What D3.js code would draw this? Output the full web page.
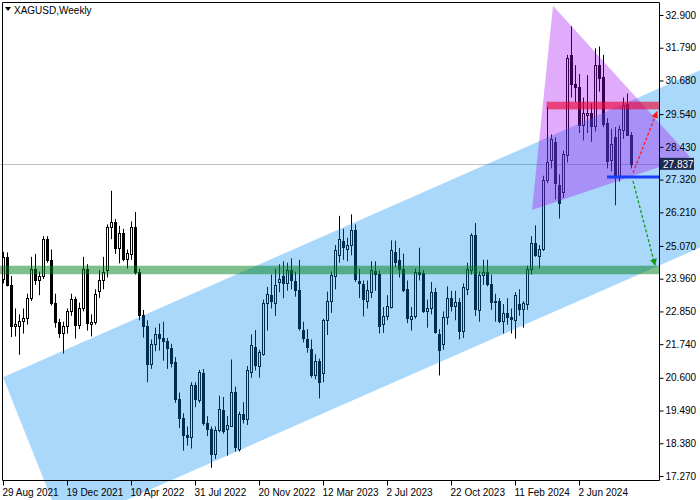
<!DOCTYPE html>
<html><head><meta charset="utf-8">
<script src="https://cdn.jsdelivr.net/npm/d3@7"></script>
<style>body{margin:0;background:#fff;overflow:hidden}svg{display:block}</style>
</head><body><svg id="c" width="700" height="500"></svg>
<script>
// ---------------- data ----------------
const symbolTitle = "XAGUSD,Weekly";
const opens = [
23.95,24.70,23.75,22.35,22.36,22.52,22.62,23.30,24.30,23.90,
24.05,25.30,24.60,23.12,22.48,22.12,22.34,22.85,23.28,22.40,
22.95,24.28,22.42,22.50,23.55,23.90,24.25,25.70,25.88,25.00,
25.50,24.62,24.80,25.70,24.18,22.72,22.35,21.07,21.76,22.10,
21.95,21.85,21.62,21.15,19.88,19.25,18.65,18.58,20.34,19.85,
20.76,19.05,18.85,18.02,18.82,19.50,18.87,18.98,20.11,18.20,
19.37,19.20,20.80,21.66,21.00,21.40,23.12,23.42,23.15,23.85,
24.04,23.80,24.25,23.88,23.56,22.22,21.92,21.58,20.70,21.18,
20.75,22.55,23.22,24.04,24.75,25.24,24.98,25.09,25.62,23.88,
23.79,23.22,23.51,24.22,24.13,22.41,22.71,23.00,24.86,24.58,
24.30,23.62,22.60,22.68,24.18,24.15,22.88,22.97,23.50,22.09,
21.75,22.66,23.31,23.05,23.16,22.20,23.62,24.27,25.43,22.90,
24.10,24.19,23.79,23.16,23.20,22.54,22.78,22.66,22.56,23.10,
22.94,23.11,24.30,25.17,24.72,24.98,27.30,28.00,28.60,27.15,
26.90,28.15,31.55,30.55,30.45,29.16,29.50,29.58,29.12,31.20,
30.80,29.24,27.98,28.75,27.43,29.00,29.88,28.83];
const highs = [
24.87,24.85,24.05,22.95,22.75,22.95,23.45,24.70,24.80,24.20,
25.40,25.40,24.95,23.45,22.60,22.50,22.95,23.45,23.35,23.15,
24.70,24.45,22.75,23.60,24.25,24.70,25.80,26.94,25.98,25.75,
25.65,24.95,25.90,26.22,24.30,22.90,22.55,21.90,22.30,22.44,
22.50,21.95,21.75,21.30,20.10,19.40,18.95,20.45,20.45,20.87,
20.90,19.30,18.95,18.95,19.99,19.95,19.30,21.22,20.30,19.45,
19.77,21.00,22.07,22.22,21.55,23.25,23.68,24.10,24.30,24.45,
24.55,24.50,24.65,24.20,24.60,22.50,22.25,21.90,21.40,21.25,
22.60,23.52,24.20,25.10,26.09,25.65,25.35,26.14,25.80,24.30,
23.90,23.90,24.55,24.55,24.25,23.00,23.40,25.26,25.25,25.00,
24.81,23.90,23.00,24.30,25.01,24.25,23.25,23.85,23.65,22.25,
22.85,23.70,23.55,23.55,23.30,23.80,24.50,25.50,25.85,24.20,
24.60,24.60,24.10,23.45,23.30,23.10,23.30,22.95,23.50,23.60,
23.20,24.40,25.40,25.77,25.10,27.45,29.79,28.85,28.75,27.50,
28.30,31.55,32.52,31.20,30.90,30.10,30.86,29.90,31.77,31.83,
31.55,29.40,29.04,29.10,29.15,30.10,30.24,28.93];
const lows = [
23.80,23.70,21.98,22.00,21.38,22.10,22.40,23.20,23.75,23.40,
23.95,24.50,23.05,22.30,21.95,21.42,22.10,22.70,21.93,22.25,
22.85,22.20,22.00,22.40,23.30,23.60,24.00,25.30,24.80,24.48,
24.55,24.30,24.60,24.10,22.55,21.96,20.45,20.90,21.50,21.52,
21.18,20.90,20.95,19.75,18.90,18.13,18.30,18.20,19.60,19.75,
18.98,18.62,17.55,17.85,18.75,18.70,17.96,18.95,18.10,18.10,
19.05,19.00,20.60,20.85,20.60,21.35,22.20,22.95,22.70,23.50,
23.30,23.55,23.60,23.35,22.20,21.80,21.45,20.60,20.55,19.90,
20.45,22.05,22.80,23.60,24.50,24.60,24.55,24.75,23.85,23.30,
22.68,22.95,23.30,23.55,22.10,22.12,22.55,22.95,24.35,24.00,
23.50,22.45,22.20,22.60,23.90,22.80,22.30,22.75,22.10,20.68,
21.55,22.40,22.85,22.55,21.90,21.95,23.40,24.10,22.70,22.50,
23.75,23.70,22.90,22.50,22.45,22.10,22.40,22.10,21.93,22.70,
22.30,22.90,24.10,24.70,24.30,24.90,27.20,27.70,26.65,26.00,
26.70,27.90,30.10,29.95,28.90,28.65,28.90,28.60,28.95,30.30,
29.10,27.70,27.60,26.45,27.25,28.70,28.80,27.70];
const closes = [
24.70,23.75,22.35,22.42,22.52,22.62,23.30,24.30,23.90,24.05,
25.30,24.60,23.12,22.48,22.12,22.34,22.85,23.28,22.40,22.95,
24.28,22.45,22.50,23.45,23.90,24.20,25.70,25.88,25.00,25.50,
24.62,24.82,25.70,24.18,22.72,22.35,21.07,21.76,22.10,21.95,
21.85,21.62,21.10,19.88,19.25,18.65,18.60,20.34,19.88,20.79,
19.05,18.87,18.02,18.82,19.53,18.80,19.00,20.11,18.24,19.37,
19.20,20.85,21.70,21.05,21.47,23.12,23.45,23.20,23.73,23.94,
23.82,24.25,23.90,23.58,22.28,21.96,21.66,20.70,21.18,20.45,
22.55,23.20,24.07,24.92,25.32,25.03,25.09,25.62,23.96,23.83,
23.28,23.58,24.24,24.13,22.37,22.71,23.02,24.92,24.52,24.30,
23.58,22.62,22.71,24.18,24.12,22.88,22.97,23.50,22.14,21.55,
22.66,23.31,23.05,23.16,22.20,23.67,24.30,25.43,22.94,24.10,
24.19,23.79,23.16,23.20,22.54,22.78,22.66,22.58,23.39,22.92,
23.13,24.30,25.17,24.75,24.98,27.30,27.90,28.68,27.21,26.53,
28.18,31.45,30.55,30.45,29.16,29.57,29.58,29.12,31.20,30.78,
29.22,27.95,28.54,27.43,29.02,29.84,28.83,27.837];
const timeLabels = ["29 Aug 2021","19 Dec 2021","10 Apr 2022","31 Jul 2022","20 Nov 2022",
                    "12 Mar 2023","2 Jul 2023","22 Oct 2023","11 Feb 2024","2 Jun 2024"];
const timeLabelBars = [0,16,32,48,64,80,96,112,128,144];
const priceTicks = [32.9,31.79,30.68,29.54,28.43,27.32,26.21,25.07,23.96,22.85,21.74,20.6,19.49,18.38,17.27];
const currentPrice = 27.837;
// drawing objects (bar index, price)
const greenZone = [24.11, 24.40];
const redZone = [29.70, 29.96];
const redZoneBars = [135.9, 164];
const channelPoly = [[0,20.62],[200,32.56],[200,26.55],[15,15.51]];
const trianglePoly = [[137.5,33.21],[132.25,26.29],[171.75,28.09]];
const blueLine = {from:151, to:164, price:27.41};
const arrowUp = [[157.5,27.55],[163.5,29.62]];
const arrowDown = [[157.5,27.27],[163,24.42]];

// ---------------- chart ----------------
const svg = d3.select("#c");
const W = 700, H = 500, plotL = 2, plotT = 2, plotR = 659, plotB = 480;
const n = closes.length;
const x = d3.scaleLinear().domain([0, n-1]).range([3, 3 + 4*(n-1)]);
const y = d3.scaleLinear().domain([17.27, 32.9]).range([476, 15]);
const FONT = "'Liberation Sans', Arial, sans-serif";

svg.append("rect").attr("width",W).attr("height",H).attr("fill","#fff");

// current price line
svg.append("line").attr("x1",0).attr("x2",plotR).attr("y1",Math.round(y(currentPrice))+0.5).attr("y2",Math.round(y(currentPrice))+0.5)
  .attr("stroke","#c0c0c0").attr("stroke-width",1);

// candles
const g = svg.append("g");
const bars = d3.range(n);
g.selectAll("line.w").data(bars).join("line").attr("class","w")
  .attr("x1",i=>Math.round(x(i))+0.5).attr("x2",i=>Math.round(x(i))+0.5)
  .attr("y1",i=>y(highs[i])).attr("y2",i=>y(lows[i]))
  .attr("stroke","#000").attr("stroke-width",1);
g.selectAll("rect.b").data(bars).join("rect").attr("class","b")
  .attr("x",i=>Math.round(x(i))-1+0.5).attr("width",2)
  .attr("y",i=>Math.round(y(Math.max(opens[i],closes[i])))+0.5)
  .attr("height",i=>Math.max(0.01, Math.round(y(Math.min(opens[i],closes[i]))) - Math.round(y(Math.max(opens[i],closes[i])))))
  .attr("fill",i=>closes[i]>=opens[i] ? "#fff" : "#000")
  .attr("stroke","#000").attr("stroke-width",1);

const pt = d => [x(d[0]), y(d[1])];
// channel
svg.append("polygon").attr("points", channelPoly.map(d=>pt(d).join(",")).join(" "))
  .attr("fill","rgb(0,138,243)").attr("fill-opacity",0.333);
// green zone
svg.append("rect").attr("x",0).attr("width",plotR).attr("y",y(greenZone[1])).attr("height",y(greenZone[0])-y(greenZone[1]))
  .attr("fill","rgb(0,128,30)").attr("fill-opacity",0.5);
// triangle
svg.append("polygon").attr("points", trianglePoly.map(d=>pt(d).join(",")).join(" "))
  .attr("fill","rgb(160,0,240)").attr("fill-opacity",0.33);
// red zone
svg.append("rect").attr("x",x(redZoneBars[0])).attr("width",x(redZoneBars[1])-x(redZoneBars[0]))
  .attr("y",y(redZone[1])).attr("height",y(redZone[0])-y(redZone[1]))
  .attr("fill","rgb(240,0,50)").attr("fill-opacity",0.62);
// blue support line
svg.append("line").attr("x1",x(blueLine.from)).attr("x2",x(blueLine.to)).attr("y1",y(blueLine.price)).attr("y2",y(blueLine.price))
  .attr("stroke","#1a3cff").attr("stroke-width",3);

// arrows
const defs = svg.append("defs");
[["ar","#ff1a1a"],["ag","#129a12"]].forEach(([id,col])=>{
  defs.append("marker").attr("id",id).attr("viewBox","0 0 10 10").attr("refX",9).attr("refY",5)
    .attr("markerWidth",7).attr("markerHeight",7).attr("markerUnits","userSpaceOnUse").attr("orient","auto")
    .append("path").attr("d","M0,0 L10,5 L0,10 z").attr("fill",col);
});
svg.append("line").attr("x1",x(arrowUp[0][0])).attr("y1",y(arrowUp[0][1])).attr("x2",x(arrowUp[1][0])).attr("y2",y(arrowUp[1][1]))
  .attr("stroke","#ff1a1a").attr("stroke-width",1.3).attr("stroke-dasharray","3,2").attr("marker-end","url(#ar)");
svg.append("line").attr("x1",x(arrowDown[0][0])).attr("y1",y(arrowDown[0][1])).attr("x2",x(arrowDown[1][0])).attr("y2",y(arrowDown[1][1]))
  .attr("stroke","#129a12").attr("stroke-width",1.3).attr("stroke-dasharray","3,2").attr("marker-end","url(#ag)");

// frame
svg.append("line").attr("x1",plotR+0.5).attr("x2",plotR+0.5).attr("y1",plotT+0.5).attr("y2",plotB+0.5).attr("stroke","#000");
svg.append("line").attr("x1",plotL+0.5).attr("x2",plotR+0.5).attr("y1",plotB+0.5).attr("y2",plotB+0.5).attr("stroke","#000");
svg.append("line").attr("x1",plotL+0.5).attr("x2",plotR+0.5).attr("y1",plotT+0.5).attr("y2",plotT+0.5).attr("stroke","#000");
svg.append("line").attr("x1",plotL+0.5).attr("x2",plotL+0.5).attr("y1",plotT+0.5).attr("y2",plotB+0.5).attr("stroke","#000");

// axes
const yAxis = d3.axisRight(y).tickValues(priceTicks).tickFormat(d3.format(".3f")).tickSize(4).tickPadding(2);
const ya = svg.append("g").attr("transform",`translate(${plotR+0.5},0)`).call(yAxis);
ya.select(".domain").remove();
ya.selectAll("text").attr("font-family",FONT).attr("font-size",10).attr("fill","#000");

const xAxis = d3.axisBottom(x).tickValues(timeLabelBars).tickFormat((d,i)=>timeLabels[i]).tickSize(5).tickPadding(3);
const xa = svg.append("g").attr("transform",`translate(0,${plotB+0.5})`).call(xAxis);
xa.select(".domain").remove();
xa.selectAll("text").attr("font-family",FONT).attr("font-size",10).attr("fill","#000")
  .attr("text-anchor","start").attr("dx",-1);

// current price label
const cy = y(currentPrice);
svg.append("rect").attr("x",plotR+1).attr("y",cy-6.5).attr("width",34).attr("height",12).attr("fill","#1e2a4e");
svg.append("text").attr("x",plotR+4).attr("y",cy+4).text(d3.format(".3f")(currentPrice))
  .attr("font-family",FONT).attr("font-size",10).attr("fill","#fff");

// title
svg.append("path").attr("d","M5,7 L11,7 L8,11 z").attr("fill","#000");
svg.append("text").attr("x",14).attr("y",14).text(symbolTitle)
  .attr("font-family",FONT).attr("font-size",10).attr("fill","#000");
</script></body></html>
